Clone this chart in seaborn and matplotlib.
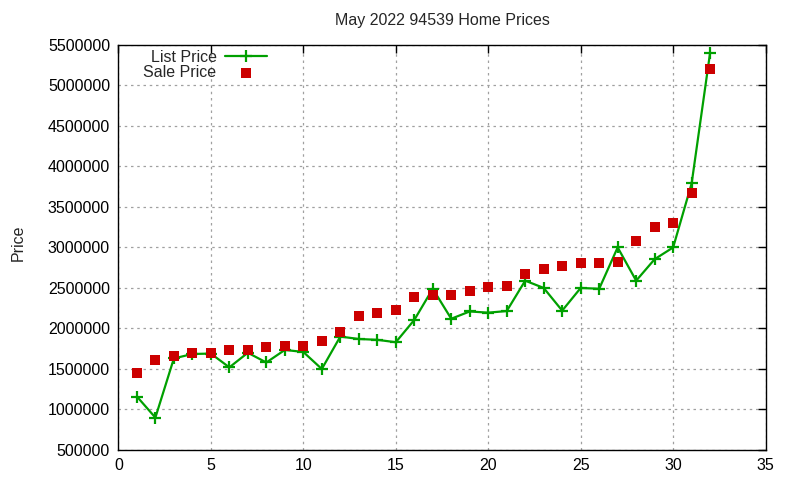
import matplotlib
matplotlib.use("Agg")
import matplotlib.pyplot as plt
import seaborn as sns
import pandas as pd

homes = list(range(1, 33))
list_price = [1160000, 900000, 1630000, 1685000, 1690000, 1520000, 1700000, 1580000,
              1735000, 1710000, 1500000, 1900000, 1870000, 1860000, 1830000, 2105000,
              2490000, 2120000, 2210000, 2195000, 2215000, 2590000, 2500000, 2220000,
              2500000, 2490000, 3000000, 2590000, 2855000, 3000000, 3790000, 5405000]
sale_price = [1450000, 1610000, 1660000, 1700000, 1700000, 1735000, 1735000, 1770000,
              1780000, 1780000, 1840000, 1957000, 2155000, 2195000, 2230000, 2390000,
              2410000, 2410000, 2467000, 2515000, 2525000, 2670000, 2735000, 2770000,
              2810000, 2810000, 2820000, 3083000, 3255000, 3306000, 3677000, 5204000]
x_ticks = [0, 5, 10, 15, 20, 25, 30, 35]
y_ticks = list(range(500000, 5500001, 500000))

df = pd.DataFrame({"home": homes, "List Price": list_price, "Sale Price": sale_price})

sns.set_style("white")
plt.rcParams["font.family"] = ["Liberation Sans", "DejaVu Sans"]

fig = plt.figure(figsize=(8, 4.8), dpi=100)
ax = fig.add_axes([0.148, 0.0625, 0.809, 0.844])

sns.lineplot(data=df, x="home", y="List Price", ax=ax, color="#00a000", linewidth=1.6,
             marker="+", markersize=9, markeredgewidth=1.6, markeredgecolor="#00a000",
             label="List Price", zorder=3)
sns.scatterplot(data=df, x="home", y="Sale Price", ax=ax, color="#cc0000", marker="s",
                s=52, linewidth=0, label="Sale Price", zorder=4)

ax.set_xlim(0, 35)
ax.set_ylim(500000, 5500000)
ax.set_xticks(x_ticks)
ax.set_yticks(y_ticks)
ax.set_xticklabels([str(v) for v in x_ticks])
ax.set_yticklabels([str(v) for v in y_ticks])
ax.grid(True, color="#a0a0a0", linestyle=(0, (2, 3)), linewidth=0.9)
ax.tick_params(direction="in", length=6, width=1, top=True, right=True,
               labelsize=11.5, colors="black", pad=6)
for s in ax.spines.values():
    s.set_color("black")
    s.set_linewidth(1.0)

ax.set_xlabel("")
ax.set_ylabel("Price", fontsize=11.5)
ax.yaxis.set_label_coords(-0.143, 0.511)
ax.set_title("May 2022 94539 Home Prices", fontsize=11.5, pad=14)

leg = ax.legend(loc="upper right", frameon=False, markerfirst=False, fontsize=11.5,
                handlelength=2.6, handletextpad=0.55, borderaxespad=0.0, borderpad=0.0,
                labelspacing=0.0, bbox_to_anchor=(0.2295, 0.988))
for t in leg.get_texts():
    t.set_ha("right")
leg.legend_handles[1].set_sizes([42])

fig.savefig("out.png", dpi=100)
